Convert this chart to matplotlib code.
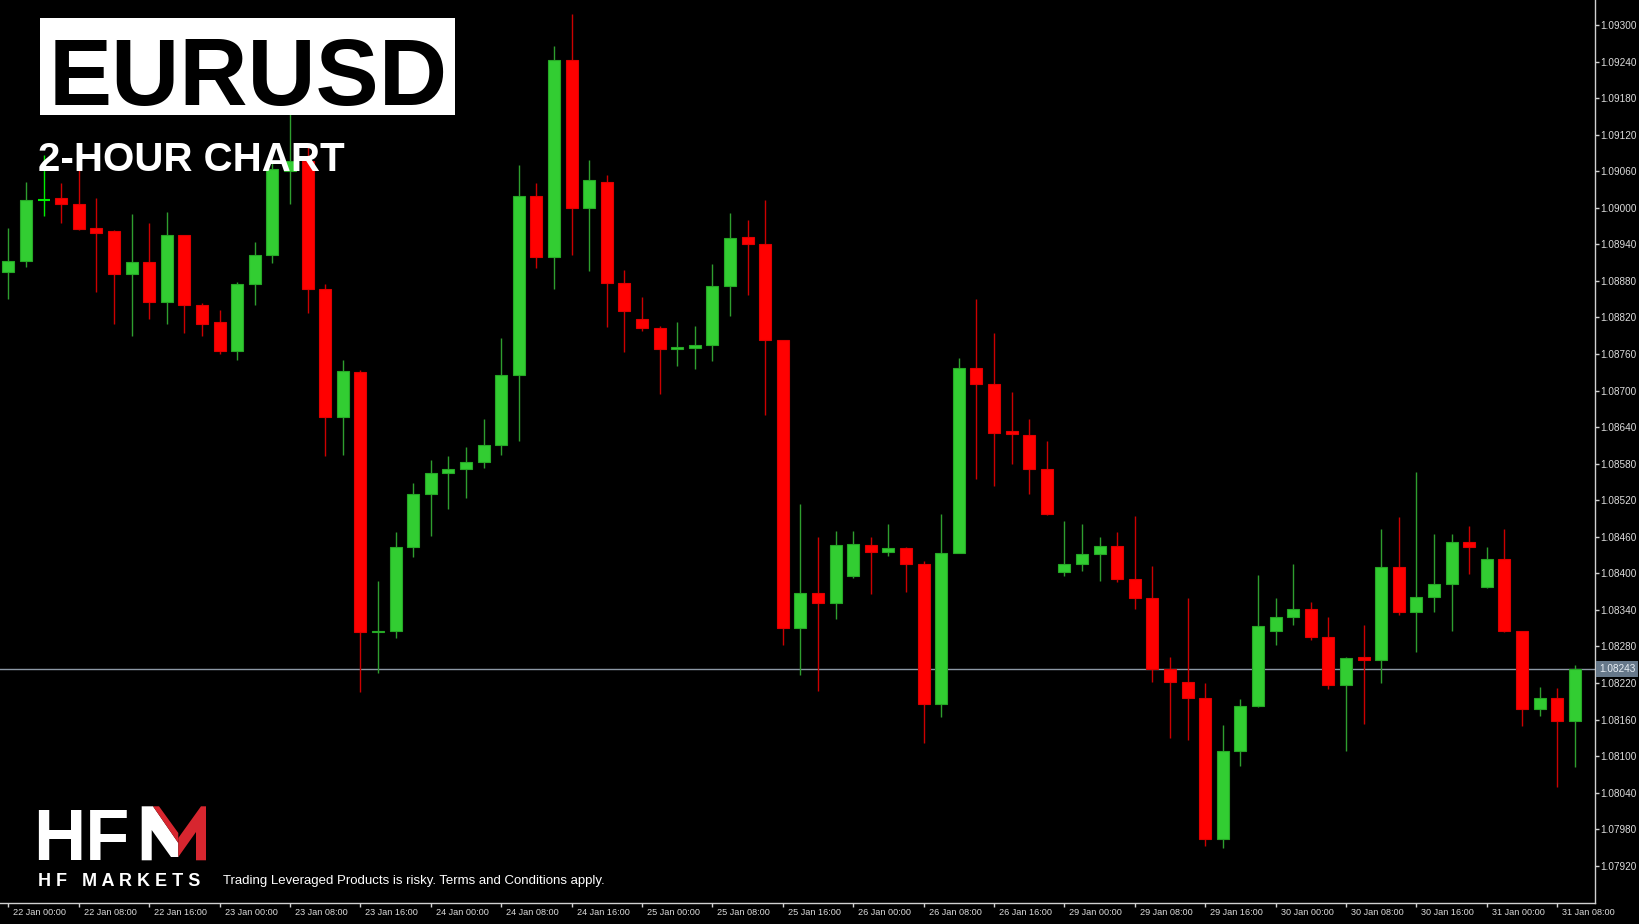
import numpy as np
import matplotlib
matplotlib.use('Agg')
import matplotlib.pyplot as plt
from matplotlib import font_manager
from matplotlib.patches import Rectangle, Polygon
from matplotlib.transforms import ScaledTranslation, blended_transform_factory

# EURUSD 2-hour candles, 22 Jan 00:00 .. 31 Jan 10:00
opens = [1.08895, 1.08913, 1.09012, 1.09016, 1.09007, 1.08967, 1.08962, 1.08892, 1.08911, 1.08845,
         1.08956, 1.08841, 1.08813, 1.08765, 1.08875, 1.08922, 1.09061, 1.09077, 1.08866, 1.08656,
         1.08731, 1.08304, 1.08306, 1.08443, 1.08531, 1.08564, 1.08572, 1.08583, 1.08611, 1.08725,
         1.09019, 1.08919, 1.09242, 1.09000, 1.09043, 1.08876, 1.08818, 1.08802, 1.08768, 1.08770,
         1.08775, 1.08871, 1.08952, 1.08941, 1.08783, 1.08310, 1.08367, 1.08351, 1.08395, 1.08447,
         1.08435, 1.08442, 1.08415, 1.08186, 1.08434, 1.08737, 1.08711, 1.08633, 1.08627, 1.08572,
         1.08403, 1.08416, 1.08432, 1.08445, 1.08390, 1.08360, 1.08243, 1.08221, 1.08195, 1.07964,
         1.08109, 1.08182, 1.08306, 1.08329, 1.08342, 1.08296, 1.08216, 1.08262, 1.08258, 1.08411,
         1.08336, 1.08362, 1.08382, 1.08452, 1.08377, 1.08423, 1.08305, 1.08177, 1.08196, 1.08158]
highs = [1.08966, 1.09043, 1.09087, 1.09041, 1.09089, 1.09016, 1.08964, 1.08989, 1.08975, 1.08993,
         1.08956, 1.08843, 1.08832, 1.08879, 1.08944, 1.09074, 1.09165, 1.09099, 1.08875, 1.08750,
         1.08734, 1.08387, 1.08468, 1.08548, 1.08586, 1.08592, 1.08608, 1.08653, 1.08786, 1.09070,
         1.09041, 1.09266, 1.09318, 1.09079, 1.09053, 1.08898, 1.08854, 1.08806, 1.08812, 1.08806,
         1.08908, 1.08991, 1.08980, 1.09012, 1.08783, 1.08514, 1.08460, 1.08469, 1.08469, 1.08460,
         1.08481, 1.08444, 1.08420, 1.08497, 1.08754, 1.08850, 1.08795, 1.08698, 1.08653, 1.08617,
         1.08486, 1.08481, 1.08460, 1.08468, 1.08494, 1.08412, 1.08263, 1.08360, 1.08220, 1.08151,
         1.08193, 1.08398, 1.08360, 1.08415, 1.08353, 1.08328, 1.08263, 1.08315, 1.08472, 1.08493,
         1.08566, 1.08465, 1.08464, 1.08478, 1.08443, 1.08473, 1.08306, 1.08214, 1.08212, 1.08250]
lows = [1.08850, 1.08902, 1.08987, 1.08975, 1.08964, 1.08862, 1.08809, 1.08790, 1.08817, 1.08810,
        1.08795, 1.08790, 1.08760, 1.08750, 1.08840, 1.08910, 1.09007, 1.08827, 1.08592, 1.08595,
        1.08206, 1.08236, 1.08294, 1.08427, 1.08462, 1.08505, 1.08523, 1.08573, 1.08595, 1.08617,
        1.08901, 1.08867, 1.08923, 1.08897, 1.08805, 1.08764, 1.08798, 1.08694, 1.08740, 1.08736,
        1.08748, 1.08822, 1.08857, 1.08660, 1.08283, 1.08233, 1.08207, 1.08325, 1.08393, 1.08366,
        1.08429, 1.08369, 1.08121, 1.08164, 1.08433, 1.08555, 1.08543, 1.08579, 1.08531, 1.08496,
        1.08396, 1.08404, 1.08387, 1.08386, 1.08341, 1.08222, 1.08130, 1.08127, 1.07953, 1.07949,
        1.08084, 1.08181, 1.08283, 1.08315, 1.08290, 1.08210, 1.08109, 1.08153, 1.08220, 1.08332,
        1.08271, 1.08336, 1.08306, 1.08399, 1.08376, 1.08304, 1.08150, 1.08166, 1.08050, 1.08083]
closes = [1.08913, 1.09012, 1.09012, 1.09006, 1.08965, 1.08959, 1.08892, 1.08911, 1.08845, 1.08956,
          1.08841, 1.08809, 1.08765, 1.08875, 1.08922, 1.09063, 1.09077, 1.08866, 1.08656, 1.08732,
          1.08304, 1.08306, 1.08443, 1.08531, 1.08564, 1.08571, 1.08582, 1.08611, 1.08725, 1.09019,
          1.08919, 1.09242, 1.09000, 1.09046, 1.08876, 1.08830, 1.08803, 1.08768, 1.08771, 1.08775,
          1.08871, 1.08950, 1.08941, 1.08783, 1.08310, 1.08367, 1.08351, 1.08447, 1.08449, 1.08435,
          1.08442, 1.08415, 1.08186, 1.08434, 1.08737, 1.08711, 1.08631, 1.08628, 1.08572, 1.08497,
          1.08416, 1.08432, 1.08445, 1.08390, 1.08360, 1.08243, 1.08221, 1.08195, 1.07964, 1.08109,
          1.08182, 1.08314, 1.08329, 1.08342, 1.08296, 1.08216, 1.08261, 1.08258, 1.08411, 1.08336,
          1.08362, 1.08382, 1.08452, 1.08443, 1.08423, 1.08305, 1.08177, 1.08196, 1.08158, 1.08243]

time_labels = ['22 Jan 00:00', '22 Jan 08:00', '22 Jan 16:00', '23 Jan 00:00', '23 Jan 08:00',
               '23 Jan 16:00', '24 Jan 00:00', '24 Jan 08:00', '24 Jan 16:00', '25 Jan 00:00',
               '25 Jan 08:00', '25 Jan 16:00', '26 Jan 00:00', '26 Jan 08:00', '26 Jan 16:00',
               '29 Jan 00:00', '29 Jan 08:00', '29 Jan 16:00', '30 Jan 00:00', '30 Jan 08:00',
               '30 Jan 16:00', '31 Jan 00:00', '31 Jan 08:00']
price_ticks = [1.07920, 1.07980, 1.08040, 1.08100, 1.08160, 1.08220, 1.08280, 1.08340,
               1.08400, 1.08460, 1.08520, 1.08580, 1.08640, 1.08700, 1.08760, 1.08820,
               1.08880, 1.08940, 1.09000, 1.09060, 1.09120, 1.09180, 1.09240, 1.09300]
last_price = 1.08243

symbol = 'EURUSD'
subtitle = '2-HOUR CHART'
disclaimer = 'Trading Leveraged Products is risky. Terms and Conditions apply.'

# fonts
names = {f.name for f in font_manager.fontManager.ttflist}
SANS = 'Liberation Sans' if 'Liberation Sans' in names else 'DejaVu Sans'

W, H = 1640, 924
fig = plt.figure(figsize=(W / 100, H / 100), dpi=100, facecolor='black')
ax = fig.add_axes([0, 21 / H, 1595 / W, 903 / H], facecolor='black')

BULL, BULL_EDGE, BULL_WICK = '#32cd32', '#26a826', '#2e9e2e'
BEAR, BEAR_EDGE, BEAR_WICK = '#ff0000', '#e00000', '#cc0000'
DOJI = '#00ee00'
body_w = 0.68

ax.axhline(last_price, color='#8c98a5', lw=1, zorder=0.5)

for i in range(len(opens)):
    o, h, l, c = opens[i], highs[i], lows[i], closes[i]
    if c == o:
        ax.vlines(i, l, h, color=DOJI, lw=1, zorder=1)
        ax.hlines(o, i - body_w / 2, i + body_w / 2, color=DOJI, lw=1.5, zorder=2)
        continue
    up = c > o
    ax.vlines(i, l, h, color=BULL_WICK if up else BEAR_WICK, lw=1, zorder=1)
    ax.add_patch(Rectangle((i - body_w / 2, min(o, c)), body_w, abs(c - o),
                           facecolor=BULL if up else BEAR,
                           edgecolor=BULL_EDGE if up else BEAR_EDGE, lw=0.8, zorder=2))

ax.set_xlim(-0.477, 90.15)
ax.set_ylim(1.07859, 1.09341)

# axes styling (MT4 look)
for s in ('top', 'left'):
    ax.spines[s].set_visible(False)
for s in ('right', 'bottom'):
    ax.spines[s].set_color('#d0d0d0')
    ax.spines[s].set_linewidth(1)

ax.yaxis.tick_right()
ax.set_yticks(price_ticks)
ax.set_yticklabels([f'{v:.5f}' for v in price_ticks], fontsize=7.2, color='#dcdcdc', family=SANS)
ax.tick_params(axis='y', length=3, width=1, color='#d0d0d0', pad=0.8)

ax.set_xticks(range(0, 4 * len(time_labels), 4))
ax.set_xticklabels(time_labels, fontsize=6.6, color='#dcdcdc', family=SANS, ha='left')
ax.tick_params(axis='x', length=3, width=1, color='#d0d0d0', pad=0.5)
for lbl in ax.get_xticklabels():
    lbl.set_transform(lbl.get_transform() + ScaledTranslation(5 / 100, 0, fig.dpi_scale_trans))

# current price tag
tr = blended_transform_factory(ax.transAxes, ax.transData)
ax.text(1 + 4 / 1595, last_price, f'{last_price:.5f}', transform=tr, ha='left', va='center',
        fontsize=7.2, color='#e8eef4', family=SANS, zorder=5, clip_on=False,
        bbox=dict(boxstyle='square,pad=0.28', fc='#66788a', ec='none'))

# branding overlay in pixel coordinates
ov = fig.add_axes([0, 0, 1, 1])
ov.set_xlim(0, W)
ov.set_ylim(H, 0)
ov.axis('off')
ov.patch.set_alpha(0)

ov.add_patch(Rectangle((39.7, 17.8), 415.8, 97.2, facecolor='white', edgecolor='none'))
ov.text(49, 105, symbol, fontsize=68, fontweight='bold', color='black', family=SANS,
        va='baseline', ha='left')
ov.text(38, 170.7, subtitle, fontsize=29, fontweight='bold', color='white', family=SANS,
        va='baseline', ha='left')

# HFM logo
ov.text(33, 860.3, 'HF', fontsize=52, fontweight='bold', color='white', family=SANS,
        va='baseline', ha='left')
ov.add_patch(Polygon([(141.7, 806.3), (153, 806.3), (178.3, 843), (178.3, 857), (171, 857),
                      (151.7, 830), (151.7, 860.3), (141.7, 860.3)],
                     closed=True, fc='white', ec='none'))
ov.add_patch(Polygon([(153, 806.3), (159, 806.3), (178.3, 833), (178.3, 843)],
                     closed=True, fc='#d7262f', ec='none'))
ov.add_patch(Polygon([(178.3, 838), (201, 806.3), (206, 806.3), (206, 860.3), (196, 860.3),
                      (196, 832), (178.3, 857)], closed=True, fc='#d7262f', ec='none'))
ov.text(38, 886, 'H F   M A R K E T S', fontsize=13, fontweight='bold', color='white',
        family=SANS, va='baseline', ha='left')
ov.text(223, 884, disclaimer, fontsize=9.5, color='white', family=SANS, va='baseline', ha='left')

fig.savefig('out.png', dpi=100, facecolor='black')
